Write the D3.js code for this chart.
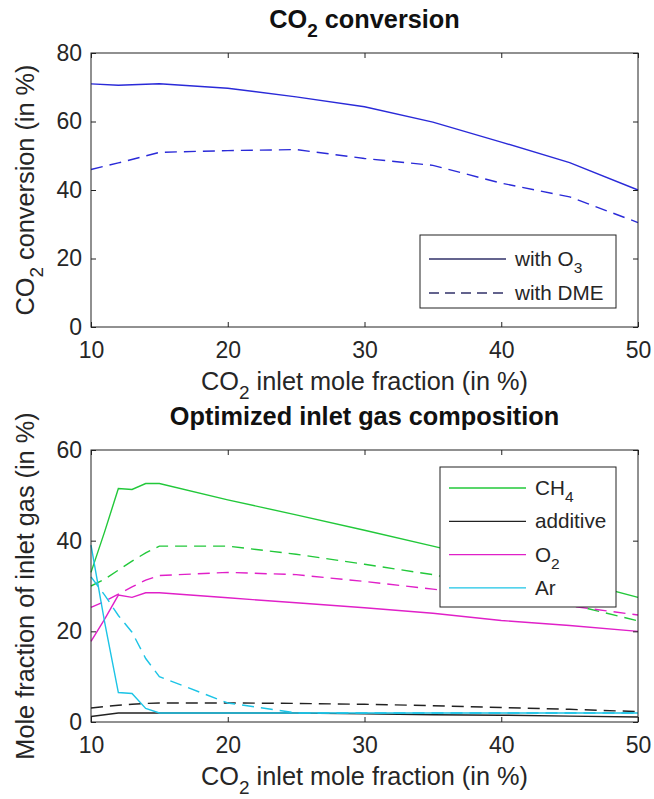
<!DOCTYPE html>
<html>
<head>
<meta charset="utf-8">
<script src="https://cdn.jsdelivr.net/npm/d3@7"></script>
<style>
  body { margin: 0; background: #fff; }
  svg { font-family: "Liberation Sans", Arial, sans-serif; }
</style>
</head>
<body>
<svg width="654" height="799"></svg>
<script>
// ---- data ----
// top panel: CO2 conversion vs CO2 inlet mole fraction
const convX = [10, 12, 15, 20, 25, 30, 35, 40, 45, 50];
const convO3 = [71, 70.6, 71, 69.7, 67.2, 64.3, 59.8, 54, 48, 40];
const convDME = [46, 47.9, 51, 51.5, 51.8, 49.2, 47.2, 42, 38, 30.5];

// bottom panel: optimized inlet gas composition (solid = with O3, dashed = with DME)
const compX = [10, 11, 12, 13, 14, 15, 20, 25, 30, 35, 40, 45, 50];
const ch4O3 = [33, 42, 51.5, 51.3, 52.6, 52.6, 49, 45.7, 42.3, 38.8, 35.2, 31.5, 27.5];
const ch4DME = [30, 31.5, 33.5, 35.5, 37.3, 38.8, 38.8, 37, 34.8, 32.5, 29.5, 26, 22.3];
const addO3 = [1.2, 1.6, 2, 2, 2, 2, 2, 2, 1.8, 1.6, 1.5, 1.3, 1.1];
const addDME = [3.1, 3.4, 3.7, 3.9, 4.1, 4.2, 4.2, 4.1, 3.9, 3.6, 3.2, 2.8, 2.3];
const o2O3 = [17.8, 22.7, 28, 27.5, 28.5, 28.5, 27.4, 26.3, 25.2, 24, 22.4, 21.3, 20];
const o2DME = [25.3, 26.6, 28.2, 29.8, 31.3, 32.3, 33, 32.5, 31, 29.3, 27.5, 25.6, 23.6];
const arO3 = [39, 22, 6.5, 6.3, 3, 2, 2, 2, 2, 2, 2, 2, 2];
const arDME = [32, 28, 23.5, 19.8, 14, 10, 4.2, 2, 2, 2, 2, 2, 2];

const xTicks = [10, 20, 30, 40, 50];
const convTicks = [0, 20, 40, 60, 80];
const compTicks = [0, 20, 40, 60];

const svg = d3.select("svg");
const tickFont = 23, labelFont = 25.3, legFont = 20.7;

// write text that may hold subscripts: parts like ["CO", ["2"], " conversion"]
function richText(sel, parts, size) {
  parts.forEach((p) => {
    if (Array.isArray(p)) {
      sel.append("tspan").attr("font-size", size * 0.75).attr("dy", size * 0.36).text(p[0]);
    } else {
      const t = sel.append("tspan").text(p);
      // come back up after a subscript
      if (t.node().previousSibling) t.attr("dy", -size * 0.36);
    }
  });
  return sel;
}

function panel(cfg) {
  const { left, right, top, bottom } = cfg.box;
  const x = d3.scaleLinear().domain([10, 50]).range([left, right]);
  const y = d3.scaleLinear().domain(cfg.yDomain).range([bottom, top]);
  const g = svg.append("g");

  // series
  const line = d3.line().x((d) => x(d[0])).y((d) => y(d[1]));
  cfg.series.forEach((s) => {
    g.append("path")
      .datum(cfg.xs.map((v, i) => [v, s.values[i]]))
      .attr("d", line)
      .attr("fill", "none")
      .attr("stroke", s.color)
      .attr("stroke-width", 1.4)
      .attr("stroke-dasharray", s.dash ? "12,7" : null);
  });

  // axes, ticks inside the box on all four sides
  const styleAxis = (a) => {
    a.select(".domain").remove();
    a.selectAll("line").attr("stroke", "#222");
    a.selectAll("text").attr("font-size", tickFont).attr("fill", "#262626").attr("font-family", null);
  };
  g.append("g").attr("transform", `translate(0,${bottom})`)
    .call(d3.axisBottom(x).tickValues(xTicks).tickSizeInner(-5).tickSizeOuter(0).tickPadding(15))
    .call(styleAxis);
  g.append("g").attr("transform", `translate(0,${top})`)
    .call(d3.axisTop(x).tickValues(xTicks).tickSizeInner(-5).tickSizeOuter(0).tickFormat(""))
    .call(styleAxis);
  g.append("g").attr("transform", `translate(${left},0)`)
    .call(d3.axisLeft(y).tickValues(cfg.yTicks).tickSizeInner(-5).tickSizeOuter(0).tickPadding(9))
    .call(styleAxis);
  g.append("g").attr("transform", `translate(${right},0)`)
    .call(d3.axisRight(y).tickValues(cfg.yTicks).tickSizeInner(-5).tickSizeOuter(0).tickFormat(""))
    .call(styleAxis);

  g.append("rect")
    .attr("x", left).attr("y", top)
    .attr("width", right - left).attr("height", bottom - top)
    .attr("fill", "none").attr("stroke", "#222").attr("stroke-width", 1);

  // title
  richText(g.append("text")
    .attr("x", (left + right) / 2).attr("y", top - 25)
    .attr("text-anchor", "middle").attr("font-weight", "bold")
    .attr("font-size", labelFont).attr("fill", "#111"), cfg.title, labelFont);

  // x label
  richText(g.append("text")
    .attr("x", (left + right) / 2).attr("y", bottom + 63)
    .attr("text-anchor", "middle")
    .attr("font-size", labelFont).attr("fill", "#262626"), ["CO", ["2"], " inlet mole fraction (in %)"], labelFont);

  // y label
  richText(g.append("text")
    .attr("transform", `translate(34,${(top + bottom) / 2}) rotate(-90)`)
    .attr("text-anchor", "middle")
    .attr("font-size", labelFont).attr("fill", "#262626"), cfg.yLabel, labelFont);

  // legend
  const L = cfg.legend;
  g.append("rect")
    .attr("x", L.x).attr("y", L.y).attr("width", L.w).attr("height", L.h)
    .attr("fill", "#fff").attr("stroke", "#222").attr("stroke-width", 1);
  L.items.forEach((it, i) => {
    const ly = L.y + L.first + i * L.step;
    g.append("line")
      .attr("x1", L.x + 9).attr("x2", L.x + 86)
      .attr("y1", ly).attr("y2", ly)
      .attr("stroke", it.color).attr("stroke-width", 1.3)
      .attr("stroke-dasharray", it.dash ? "10,6" : null);
    richText(g.append("text")
      .attr("x", L.x + 95).attr("y", ly + 7)
      .attr("font-size", legFont).attr("fill", "#262626"), it.label, legFont);
  });
}

const blue = "#2a2ad8", green = "#22c83a", black = "#222", magenta = "#e020c8", cyan = "#1cc4e6";

panel({
  box: { left: 91, right: 638, top: 53, bottom: 327 },
  yDomain: [0, 80],
  yTicks: convTicks,
  xs: convX,
  title: ["CO", ["2"], " conversion"],
  yLabel: ["CO", ["2"], " conversion (in %)"],
  series: [
    { values: convO3, color: blue },
    { values: convDME, color: blue, dash: true }
  ],
  legend: {
    x: 420, y: 235, w: 196, h: 73, first: 24, step: 34,
    items: [
      { label: ["with O", ["3"]], color: "#303068" },
      { label: ["with DME"], color: "#303068", dash: true }
    ]
  }
});

panel({
  box: { left: 91, right: 638, top: 450, bottom: 722 },
  yDomain: [0, 60],
  yTicks: compTicks,
  xs: compX,
  title: ["Optimized inlet gas composition"],
  yLabel: ["Mole fraction of inlet gas (in %)"],
  series: [
    { values: ch4O3, color: green },
    { values: ch4DME, color: green, dash: true },
    { values: addO3, color: black },
    { values: addDME, color: black, dash: true },
    { values: o2O3, color: magenta },
    { values: o2DME, color: magenta, dash: true },
    { values: arO3, color: cyan },
    { values: arDME, color: cyan, dash: true }
  ],
  legend: {
    x: 440, y: 467, w: 176, h: 140, first: 21, step: 33.3,
    items: [
      { label: ["CH", ["4"]], color: green },
      { label: ["additive"], color: black },
      { label: ["O", ["2"]], color: magenta },
      { label: ["Ar"], color: cyan }
    ]
  }
});
</script>
</body>
</html>
